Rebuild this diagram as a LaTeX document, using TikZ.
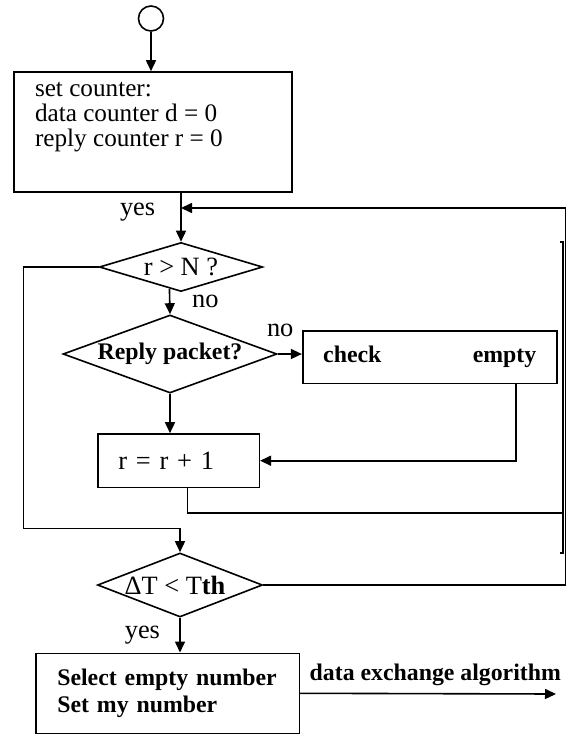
\documentclass[tikz,border=0pt]{standalone}
\usepackage{fontspec}
\setmainfont{Liberation Serif}
\usetikzlibrary{positioning, arrows.meta, shapes.geometric}

\tikzstyle{mybox} = [draw, line width=0.8pt, rectangle, inner sep=0pt]
\tikzstyle{mydiamond} = [draw, line width=0.8pt, diamond, inner sep=0pt]
\tikzstyle{myarrow} = [line width=0.8pt, -{Triangle[length=5.5pt, width=5pt]}]
\tikzstyle{myline} = [line width=0.8pt]
\tikzstyle{mylabel} = [inner sep=1pt]
\newcommand{\rmtext}{\fontsize{13.2}{15.8}\selectfont}
\newcommand{\bftext}{\fontsize{11.9}{13.35}\selectfont\bfseries}

\begin{document}
\begin{tikzpicture}[x=0.5pt, y=-0.5pt, font=\rmtext]
\useasboundingbox (0,0) rectangle (566,734);

\node[draw, line width=0.8pt, circle, minimum size=12.5pt, inner sep=0pt] (start) at (151,18.5) {};

\node[mybox, minimum width=139pt, minimum height=60pt] (init) at (153,132) {
  \begin{minipage}[c][50pt][t]{118pt}
    \fontsize{12.6}{12.5}\selectfont
    set counter:\\
    data counter d = 0\\
    reply counter r = 0
  \end{minipage}
};

\node[mydiamond, aspect=3.3, minimum width=81.7pt, minimum height=24.5pt] (d1) at (181,267) {r > N ?};
\node[mydiamond, aspect=2.74, minimum width=107pt, minimum height=39pt, font=\bftext] (d2) at (170,354) {Reply packet?};
\node[mybox, minimum width=127pt, minimum height=26.3pt, text width=106.5pt, font=\bftext] (check) at (429.7,357) {check\hfill empty};
\node[mybox, minimum width=80.8pt, minimum height=26.7pt, text width=60.2pt, align=left] (incr) at (178.5,460.7) {r = r + 1};
\node[mydiamond, aspect=2.58, minimum width=82.5pt, minimum height=32pt] (d3) at (180,585) {\hspace*{-5pt}ΔT < T{\bfseries th}};
\node[mybox, minimum width=131.7pt, minimum height=40pt, text width=110.4pt, align=left, font=\bftext] (final) at (167.7,693.3) {Select empty number\\ Set my number};

% corners of the loops on the right and left
\coordinate (loopR) at (566,208);
\coordinate (loopIn) at (562.8,513);
\coordinate (rtop) at (562.8,242);
\coordinate (rbot) at (562.8,553);
\coordinate (leftA) at (23.3,528.3);
\coordinate (exit) at (556,694);

\draw[myarrow] (start) -- (start |- init.north);
\draw[myarrow] (d1.north |- init.south) -- (d1.north) node[pos=0.4, left=11.5pt, mylabel] {yes};
\draw[myarrow] (d1.242.6) -- (d2.north) node[midway, right=9.8pt, mylabel] {no};
\draw[myarrow] (d2.east) -- (d2.east -| check.west) node[pos=0.1, above=7pt, mylabel] {no};
\draw[myarrow] (d2.south) -- (d2.south |- incr.north);
\draw[myarrow] ([xshift=-20.85pt]check.south east) |- (incr.east);
\draw[myline] ([xshift=4.4pt]incr.south) |- (loopIn);
\draw[line width=0.7pt] ([xshift=-1.5pt]rtop) -- (rtop) -- (rbot) -- ([xshift=-1.5pt]rbot);
\draw[myarrow] (d1.west) -| (leftA) -| (d3.north);
\draw[myarrow] (d3.east) -| (loopR) -- (loopR -| d1.north);
\draw[myarrow] (d3.south) -- (d3.south |- final.north) node[midway, left=8.6pt, mylabel] {yes};
\draw[myarrow] (final.east) -- (exit) node[midway, above=2.8pt, xshift=3.6pt, mylabel, font=\bftext] {data exchange algorithm};
\end{tikzpicture}
\end{document}
